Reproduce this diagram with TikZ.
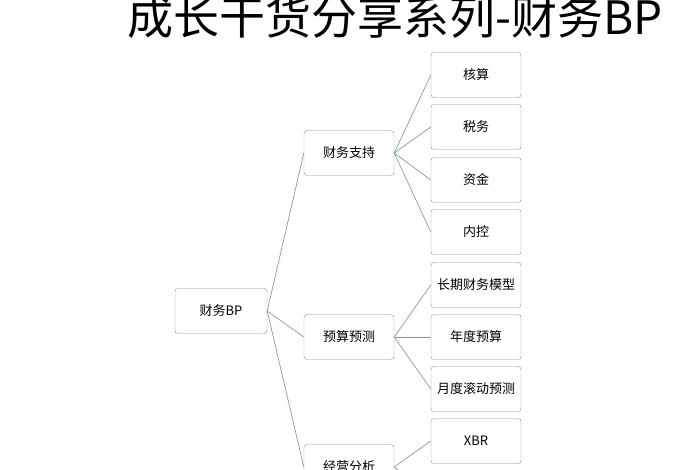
\documentclass[tikz,border=0pt]{standalone}
\usepackage{fontspec}
\setmainfont{Noto Sans CJK SC}
\begin{document}
\begin{tikzpicture}[x=1pt,y=-1pt,
  box/.style={draw=black!45,rounded corners=3pt,minimum width=90pt,minimum height=45pt,font=\fontsize{13}{15}\selectfont,inner sep=0pt},
  ln/.style={draw=green!30!black!50,line width=0.7pt}]
\useasboundingbox (0,0) rectangle (700,470);
\begin{scope}
\clip (0,0) rectangle (700,470);
\node[font=\fontsize{46}{50}\selectfont,anchor=center] (t) at (395,17) {成长干货分享系列-财务BP};
\node[box,minimum width=92pt] (r) at (221,311) {财务BP};
\node[box] (a) at (349,153) {财务支持};
\node[box] (b) at (349,337) {预算预测};
\node[box] (c) at (349,467) {经营分析};
\node[box] (a1) at (476,75) {核算};
\node[box] (a2) at (476,127) {税务};
\node[box] (a3) at (476,180) {资金};
\node[box] (a4) at (476,232) {内控};
\node[box] (b1) at (476,285) {长期财务模型};
\node[box] (b2) at (476,337) {年度预算};
\node[box] (b3) at (476,389) {月度滚动预测};
\node[box] (c1) at (476,441) {XBR};
\node[box] (c2) at (476,493) {};
\foreach \x in {a,b,c} \draw[ln] (r.east) -- (\x.west);
\foreach \x in {a1,a2,a3,a4} \draw[ln] (a.east) -- (\x.west);
\foreach \x in {b1,b2,b3} \draw[ln] (b.east) -- (\x.west);
\foreach \x in {c1,c2} \draw[ln] (c.east) -- (\x.west);
\end{scope}
\end{tikzpicture}
\end{document}
